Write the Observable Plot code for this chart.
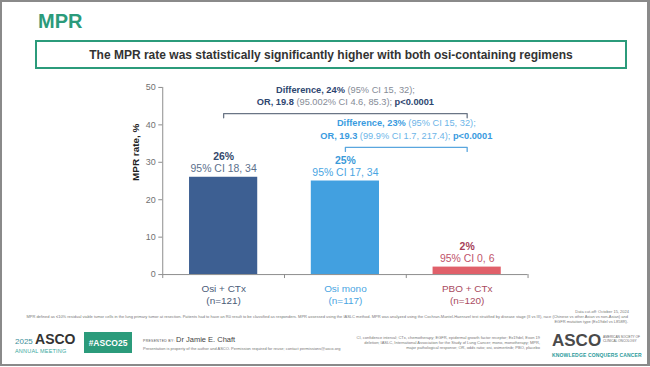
<!DOCTYPE html>
<html><head><meta charset="utf-8">
<script src="https://cdn.jsdelivr.net/npm/d3@7"></script>
<script src="https://cdn.jsdelivr.net/npm/@observablehq/plot@0.6"></script>
<style>
html,body{margin:0;padding:0;background:#fff;}
body{font-family:"Liberation Sans",Arial,sans-serif;}
#slide{position:relative;width:650px;height:366px;box-sizing:border-box;border-left:2px solid #8a8a8a;border-top:2px solid #8a8a8a;border-right:3px solid #8a8a8a;border-bottom:2px solid #8a8a8a;overflow:hidden;background:#fff;}
.abs{position:absolute;white-space:nowrap;}
#heading{left:36px;top:9px;font-size:20px;line-height:20px;font-weight:bold;color:#2b9b7b;}
#keybox{left:33px;top:38px;width:592px;height:29px;box-sizing:border-box;border:2px solid #2b9b7b;display:flex;align-items:center;justify-content:center;font-size:12px;font-weight:bold;color:#333;}
#chart{position:absolute;left:-2px;top:73px;}
.tiny{font-size:4px;line-height:5px;color:#777;}
</style></head>
<body>
<div id="slide">
  <div class="abs" id="heading">MPR</div>
  <div class="abs" id="keybox">The MPR rate was statistically significantly higher with both osi-containing regimens</div>
  <div id="chart"></div>
  <div class="abs tiny" style="right:18px;top:307px;text-align:right;">Data cut-off: October 15, 2024</div>
  <div class="abs tiny" style="left:18px;top:312px;width:608px;white-space:normal;text-align:right;">MPR defined as ≤10% residual viable tumor cells in the lung primary tumor at resection. Patients had to have an R0 result to be classified as responders. MPR assessed using the IASLC method. MPR was analyzed using the Cochran-Mantel-Haenszel test stratified by disease stage (II vs III), race (Chinese vs other Asian vs non-Asian) and EGFR mutation type (Ex19del vs L858R).</div>
  <div class="abs" style="left:13px;top:329px;font-size:8px;color:#3d8f9a;">2025 <span style="font-size:14px;font-weight:bold;color:#333;">ASCO</span></div>
  <div class="abs" style="left:13px;top:346px;font-size:5.5px;color:#3aa9a0;letter-spacing:0.2px;">ANNUAL MEETING</div>
  <div class="abs" style="left:82px;top:330px;width:48px;height:21px;background:#2b9b7b;color:#fff;font-size:8.5px;font-weight:bold;display:flex;align-items:center;justify-content:center;">#ASCO25</div>
  <div class="abs" style="left:141px;top:333px;font-size:3.5px;color:#555;letter-spacing:0.3px;">PRESENTED BY: <span style="font-size:7.5px;color:#444;letter-spacing:0;">Dr Jamie E. Chaft</span></div>
  <div class="abs tiny" style="left:141px;top:344px;">Presentation is property of the author and ASCO. Permission required for reuse; contact permissions@asco.org</div>
  <div class="abs tiny" style="left:352px;top:333px;width:186px;white-space:normal;text-align:right;">CI, confidence interval; CTx, chemotherapy; EGFR, epidermal growth factor receptor; Ex19del, Exon 19 deletion; IASLC, International Association for the Study of Lung Cancer; mono, monotherapy; MPR, major pathological response; OR, odds ratio; osi, osimertinib; PBO, placebo</div>
  <div class="abs" style="left:550px;top:330px;font-size:17px;line-height:18px;font-weight:bold;color:#4a4a4a;">ASCO</div>
  <div class="abs" style="left:601px;top:333px;font-size:3.2px;line-height:4px;color:#666;white-space:normal;width:38px;">AMERICAN SOCIETY OF CLINICAL ONCOLOGY</div>
  <div class="abs" style="left:550px;top:350px;font-size:5px;font-weight:bold;color:#2b9b9b;letter-spacing:0.15px;">KNOWLEDGE CONQUERS CANCER</div>
</div>
<script>
// ---- data ----
const categories = ["Osi + CTx", "Osi mono", "PBO + CTx"];
const nLabels = ["(n=121)", "(n=117)", "(n=120)"];
const mprRate = [26, 25, 2];
const ciLow = [18, 17, 0];
const ciHigh = [34, 34, 6];
const yTicks = [0, 10, 20, 30, 40, 50];
const cmpFrom = ["Osi + CTx", "Osi mono"];
const cmpTo = ["PBO + CTx", "PBO + CTx"];
const cmpDiff = ["Difference, 24%", "Difference, 23%"];
const cmpDiffCI = ["95% CI 15, 32", "95% CI 15, 32"];
const cmpOR = ["OR, 19.8", "OR, 19.3"];
const cmpORCI = ["95.002% CI 4.6, 85.3", "99.9% CI 1.7, 217.4"];
const cmpP = ["p<0.0001", "p<0.0001"];
const yLabel = "MPR rate, %";

// ---- styles / layout ----
const barFill = ["#3d5f92", "#42a0e0", "#e0606a"];
const valBold = ["#34496b", "#3a9ad9", "#a63e58"];
const valSoft = ["#5b6f8c", "#4aa5e2", "#c0526a"];
const catColor = ["#4a5b78", "#4aa5e2", "#a94a60"];
const cmpBold = ["#2e4670", "#3a9be0"];
const cmpSoft = ["#868c97", "#6db5e8"];
const cmpRule = ["#6a7585", "#5aa6de"];
const bracketLevel = [43, 34];
const bracketDrop = 1.1;
const BAR_HALF = 0.28;
const FONT = "Liberation Sans, Arial, sans-serif";

const pos = c => categories.indexOf(c) + 0.5;
const bars = categories.map((c, i) => ({
  i, cat: c, x: pos(c), rate: mprRate[i], n: nLabels[i],
  pct: mprRate[i] + "%", ci: `95% CI ${ciLow[i]}, ${ciHigh[i]}`
}));
const cmps = cmpFrom.map((f, g) => ({
  g, xa: pos(f), xb: pos(cmpTo[g]), mid: (pos(f) + pos(cmpTo[g])) / 2, lvl: bracketLevel[g],
  l1: [[cmpDiff[g], true], [` (${cmpDiffCI[g]});`, false]],
  l2: [[cmpOR[g], true], [` (${cmpORCI[g]}); `, false], [cmpP[g], true]]
}));
cmps.forEach(d => { d.t1 = d.l1.map(p => p[0]).join(""); d.t2 = d.l2.map(p => p[0]).join(""); });
const bracketPts = cmps.flatMap(d => [
  {g: d.g, x: d.xa, y: d.lvl - bracketDrop},
  {g: d.g, x: d.xa, y: d.lvl},
  {g: d.g, x: d.xb, y: d.lvl},
  {g: d.g, x: d.xb, y: d.lvl - bracketDrop}
]);

const chart = Plot.plot({
  width: 650, height: 240,
  marginLeft: 163, marginRight: 120, marginTop: 12, marginBottom: 40,
  style: {fontFamily: FONT, fontSize: "10px", background: "transparent", overflow: "visible"},
  x: {domain: [0, categories.length], axis: null},
  y: {domain: [0, 50], axis: null},
  color: {type: "identity"},
  marks: [
    Plot.rectY(bars, {x1: d => d.x - BAR_HALF, x2: d => d.x + BAR_HALF, y1: 0, y2: "rate", fill: d => barFill[d.i]}),
    Plot.axisY({ticks: yTicks, tickSize: 4, tickPadding: 3, fontSize: 9, stroke: "#8c8c8c", fill: "#707070", label: null}),
    Plot.ruleX([0], {y1: 0, y2: 50, stroke: "#8c8c8c"}),
    Plot.axisX({ticks: d3.range(categories.length + 1), tickFormat: () => "", tickSize: 4, stroke: "#8c8c8c", label: null}),
    Plot.ruleY([0], {stroke: "#8c8c8c"}),
    Plot.text([yLabel], {frameAnchor: "left", text: d => d, rotate: -90, dx: -27, fontWeight: "bold", fontSize: 10, fill: "#222"}),
    Plot.text(bars, {x: "x", y: 0, text: "cat", dy: 14, fontSize: 10, fill: d => catColor[d.i]}),
    Plot.text(bars, {x: "x", y: 0, text: "n", dy: 26.5, fontSize: 10, fill: d => catColor[d.i]}),
    Plot.text(bars, {x: "x", y: "rate", text: "pct", dy: -20.5, fontSize: 10.5, fontWeight: "bold", fill: d => valBold[d.i]}),
    Plot.text(bars, {x: "x", y: "rate", text: "ci", dy: -8.5, fontSize: 10.5, fill: d => valSoft[d.i]}),
    Plot.line(bracketPts, {x: "x", y: "y", z: "g", stroke: d => cmpRule[d.g], strokeWidth: 1.3}),
    Plot.text(cmps, {x: "mid", y: "lvl", text: "t1", dy: -24, fontSize: 9.3, fill: d => cmpSoft[d.g]}),
    Plot.text(cmps, {x: "mid", y: "lvl", text: "t2", dy: -11.5, fontSize: 9.3, fill: d => cmpSoft[d.g]})
  ]
});
document.getElementById("chart").appendChild(chart);

// rich text: bold segments in the comparison annotations (matched by their text)
const SVGNS = "http://www.w3.org/2000/svg";
chart.querySelectorAll("text").forEach(el => {
  for (const d of cmps) {
    for (const key of ["l1", "l2"]) {
      const full = key === "l1" ? d.t1 : d.t2;
      if (el.textContent === full) {
        el.textContent = "";
        el.setAttribute("xml:space", "preserve");
        el.style.whiteSpace = "pre";
        d[key].forEach(([s, bold]) => {
          const ts = document.createElementNS(SVGNS, "tspan");
          ts.textContent = s;
          if (bold) { ts.setAttribute("font-weight", "bold"); ts.setAttribute("fill", cmpBold[d.g]); }
          el.appendChild(ts);
        });
      }
    }
  }
});
</script>
</body></html>
